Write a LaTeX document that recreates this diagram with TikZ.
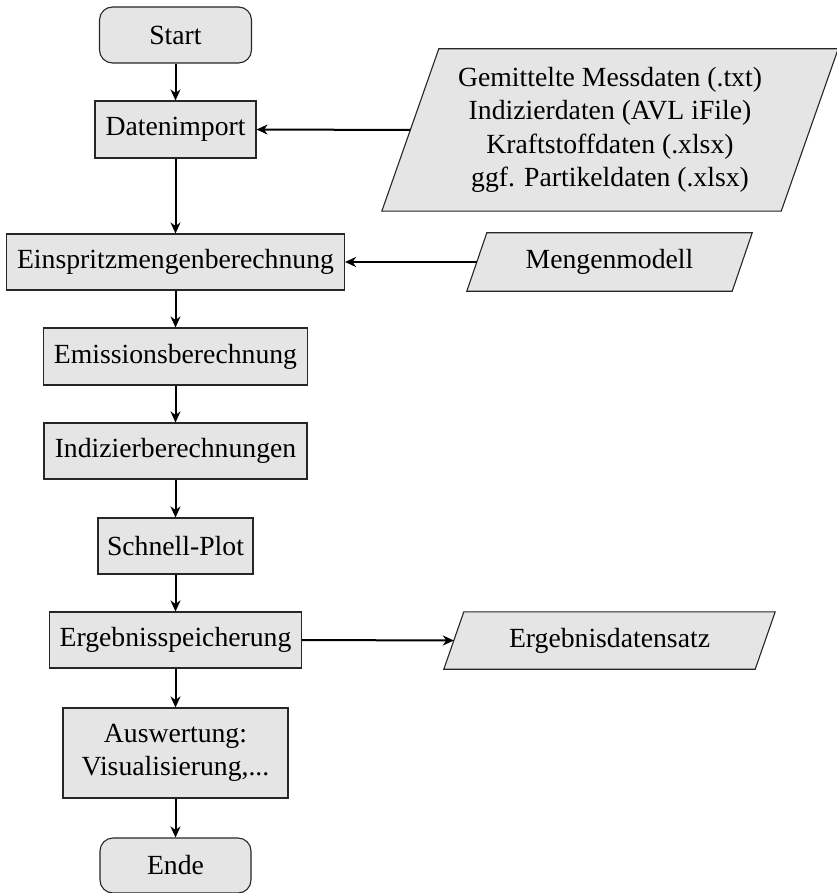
\documentclass[tikz,border=0pt]{standalone}
\usepackage{fontspec}
\setmainfont{Liberation Serif}
\usetikzlibrary{arrows.meta,backgrounds,calc}
\begin{document}
\begin{tikzpicture}[x=1pt,y=-1pt,
  font=\fontsize{27.7}{33.5}\selectfont,
  box/.style={draw=black!85,fill=gray!20,line width=1.1pt,rectangle,inner sep=0pt,align=center},
  term/.style={box,rounded corners=13pt},
  io/.style={rectangle,inner sep=0pt,align=center},
  iofill/.style={draw=black!85,fill=gray!20,line width=1.1pt},
  arr/.style={line width=2pt,-{Stealth[length=11pt,width=10pt,inset=3.5pt]}}
]
\useasboundingbox (0,0) rectangle (836,893);
\node[term,minimum width=152pt,minimum height=56pt] (start) at (175.5,35) {Start};
\node[box,minimum width=161pt,minimum height=57pt] (daten) at (175.5,129.5) {Datenimport};
\node[box,minimum width=338pt,minimum height=56pt] (einsp) at (175.5,262) {Einspritzmengenberechnung};
\node[box,minimum width=264pt,minimum height=57pt] (emis) at (175.5,356.5) {Emissionsberechnung};
\node[box,minimum width=263pt,minimum height=56pt] (indiz) at (175.5,451) {Indizierberechnungen};
\node[box,minimum width=155pt,minimum height=56pt] (schnell) at (175.5,546) {Schnell-Plot};
\node[box,minimum width=252pt,minimum height=56pt] (ergsp) at (175.5,640) {Ergebnisspeicherung};
\node[box,minimum width=225pt,minimum height=90pt] (ausw) at (175.5,753) {Auswertung:\\Visualisierung,...};
\node[term,minimum width=151pt,minimum height=55pt] (ende) at (175.5,865.5) {Ende};

\node[io,minimum width=399pt,minimum height=162pt] (in1) at (610,130)
  {Gemittelte Messdaten (.txt)\\Indizierdaten (AVL iFile)\\Kraftstoffdaten (.xlsx)\\ggf. Partikeldaten (.xlsx)};
\node[io,minimum width=265pt,minimum height=58pt] (in2) at (609.5,262) {Mengenmodell};
\node[io,minimum width=311pt,minimum height=57pt] (out) at (609.5,640.5) {Ergebnisdatensatz};

\begin{pgfonlayer}{background}
\draw[iofill] ($(in1.south west)+(-28.5,0)$) -- ($(in1.north west)+(28.5,0)$) -- ($(in1.north east)+(28.5,0)$) -- ($(in1.south east)+(-28.5,0)$) -- cycle;
\draw[iofill] ($(in2.south west)+(-10,0)$) -- ($(in2.north west)+(10,0)$) -- ($(in2.north east)+(10,0)$) -- ($(in2.south east)+(-10,0)$) -- cycle;
\draw[iofill] ($(out.south west)+(-10,0)$) -- ($(out.north west)+(10,0)$) -- ($(out.north east)+(10,0)$) -- ($(out.south east)+(-10,0)$) -- cycle;
\end{pgfonlayer}

\draw[arr] (start) -- (daten);
\draw[arr] (daten) -- (einsp);
\draw[arr] (einsp) -- (emis);
\draw[arr] (emis) -- (indiz);
\draw[arr] (indiz) -- (schnell);
\draw[arr] (schnell) -- (ergsp);
\draw[arr] (ergsp) -- (ausw);
\draw[arr] (ausw) -- (ende);
\draw[arr] (in1.west) -- (daten.east);
\draw[arr] (in2.west) -- (einsp.east);
\draw[arr] (ergsp.east) -- (out.west);
\end{tikzpicture}
\end{document}
